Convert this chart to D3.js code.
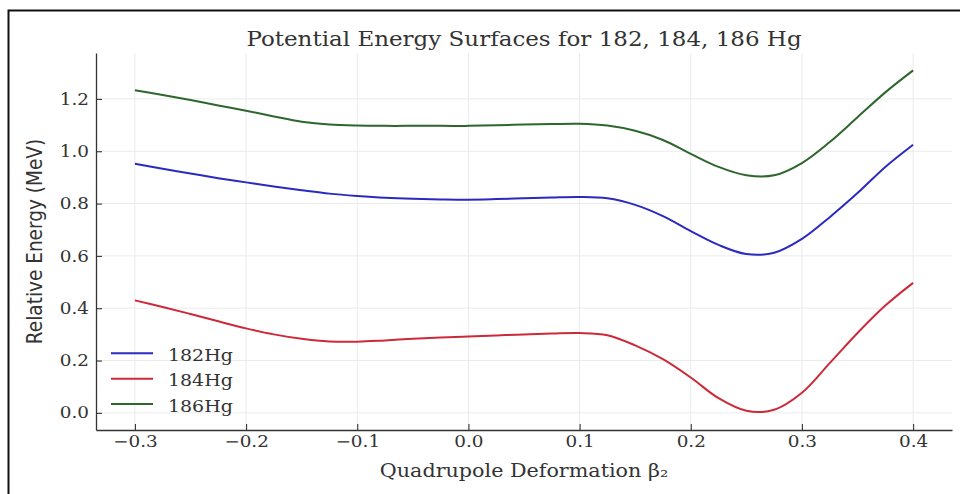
<!DOCTYPE html>
<html>
<head>
<meta charset="utf-8">
<script src="https://cdn.jsdelivr.net/npm/d3@7"></script>
<style>
  body { margin:0; background:#fff; }
  svg text { fill:#333; }
</style>
</head>
<body>
<div id="chart"></div>
<script>
// deformation grid
var beta = [-0.3,-0.275,-0.25,-0.225,-0.2,-0.175,-0.15,-0.125,-0.1,-0.075,-0.05,-0.025,0,
  0.025,0.05,0.075,0.1,0.125,0.15,0.175,0.2,0.225,0.25,0.275,0.3,0.325,0.35,0.375,0.4]

var hg182 = [0.952,0.933,0.915,0.897,0.881,0.865,0.851,0.838,0.829,0.822,0.818,0.816,0.815,
  0.817,0.820,0.823,0.825,0.820,0.795,0.752,0.695,0.642,0.607,0.612,0.665,0.748,0.840,0.940,1.025]
var hg184 = [0.430,0.405,0.378,0.350,0.323,0.300,0.283,0.273,0.272,0.277,0.283,0.288,0.292,
  0.296,0.300,0.303,0.305,0.297,0.258,0.205,0.135,0.056,0.008,0.012,0.077,0.190,0.305,0.410,0.497]
var hg186 = [1.233,1.215,1.196,1.175,1.155,1.133,1.113,1.102,1.098,1.097,1.097,1.097,1.097,
  1.099,1.102,1.104,1.105,1.098,1.078,1.043,0.990,0.940,0.908,0.908,0.955,1.035,1.130,1.225,1.309]

var seriesNames = ["182Hg","184Hg","186Hg"]
var seriesColours = ["#2a2ac0","#cc2a3a","#2e662e"]
var xTicks = [-0.3,-0.2,-0.1,0,0.1,0.2,0.3,0.4]
var yTicks = [0,0.2,0.4,0.6,0.8,1.0,1.2]

var W = 960, H = 494
var m = {left:96, right:8, top:53, bottom:64}
var sx = 1.15   // text in the picture is a bit wider than it is tall

var svg = d3.select("#chart").append("svg").attr("width",W).attr("height",H)

// outer frame
svg.append("rect").attr("x",8.5).attr("y",10.5).attr("width",W).attr("height",H)
  .attr("fill","none").attr("stroke","#111").attr("stroke-width",2)

var x = d3.scaleLinear().domain([-0.335,0.435]).range([m.left,W-m.right])
var y = d3.scaleLinear().domain([-0.0655,1.3755]).range([H-m.bottom,m.top])

// grid
var grid = svg.append("g").attr("stroke","#ebebeb").attr("stroke-width",1)
grid.selectAll(".gx").data(xTicks).enter().append("line")
  .attr("x1",d=>x(d)).attr("x2",d=>x(d)).attr("y1",y.range()[1]).attr("y2",y.range()[0])
grid.selectAll(".gy").data(yTicks).enter().append("line")
  .attr("y1",d=>y(d)).attr("y2",d=>y(d)).attr("x1",x.range()[0]).attr("x2",x.range()[1])

var fmt = d=> d<0 ? "\u2212"+d3.format(".1f")(-d) : d3.format(".1f")(d)

var xAxis = svg.append("g").attr("transform","translate(0,"+(H-m.bottom)+")")
  .call(d3.axisBottom(x).tickValues(xTicks).tickFormat(fmt).tickSizeInner(-6).tickSizeOuter(0).tickPadding(6))
var yAxis = svg.append("g").attr("transform","translate("+m.left+",0)")
  .call(d3.axisLeft(y).tickValues(yTicks).tickFormat(fmt).tickSizeInner(-6).tickSizeOuter(0).tickPadding(7))

;[xAxis,yAxis].forEach(function(a){
  a.select(".domain").attr("stroke","#333").attr("stroke-width",1.3)
  a.selectAll(".tick line").attr("stroke","#333").attr("stroke-width",1.1)
  a.selectAll(".tick text").attr("font-family","DejaVu Serif").attr("font-size",16).attr("fill","#333")
})
// widen tick labels around their anchor
xAxis.selectAll(".tick text").attr("transform","scale("+sx+",1)")
yAxis.selectAll(".tick text").each(function(){
  var t = d3.select(this), tx = +t.attr("x")
  t.attr("x",0).attr("transform","translate("+tx+",0) scale("+sx+",1)")
})

// curves
var line = d3.line().x(d=>x(d[0])).y(d=>y(d[1])).curve(d3.curveCatmullRom.alpha(0.5))
;[hg182,hg184,hg186].forEach(function(vals,i){
  svg.append("path").datum(beta.map((b,j)=>[b,vals[j]]))
    .attr("d",line).attr("fill","none")
    .attr("stroke",seriesColours[i]).attr("stroke-width",2)
})

// legend
var lg = svg.append("g")
seriesNames.forEach(function(n,i){
  var yy = 353.3 + i*25.4
  lg.append("line").attr("x1",111).attr("x2",153).attr("y1",yy).attr("y2",yy)
    .attr("stroke",seriesColours[i]).attr("stroke-width",2)
  lg.append("text").attr("transform","translate(168,"+(yy+7.5)+") scale("+sx+",1)").text(n)
    .attr("font-family","DejaVu Serif").attr("font-size",16.5)
})

// titles
var cx = (x.range()[0]+x.range()[1])/2
svg.append("text").attr("transform","translate("+cx+",46) scale("+sx+",1)").attr("text-anchor","middle")
  .attr("font-family","DejaVu Serif").attr("font-size",20)
  .text("Potential Energy Surfaces for 182, 184, 186 Hg")
svg.append("text").attr("transform","translate("+cx+",477) scale("+sx+",1)").attr("text-anchor","middle")
  .attr("font-family","DejaVu Serif").attr("font-size",18)
  .text("Quadrupole Deformation \u03b2\u2082")
svg.append("text").attr("transform","translate(42,"+((y.range()[0]+y.range()[1])/2)+") rotate(-90) scale(1,"+sx+")")
  .attr("text-anchor","middle").attr("font-family","DejaVu Sans").attr("font-size",18.5)
  .text("Relative Energy (MeV)")
</script>
</body>
</html>
